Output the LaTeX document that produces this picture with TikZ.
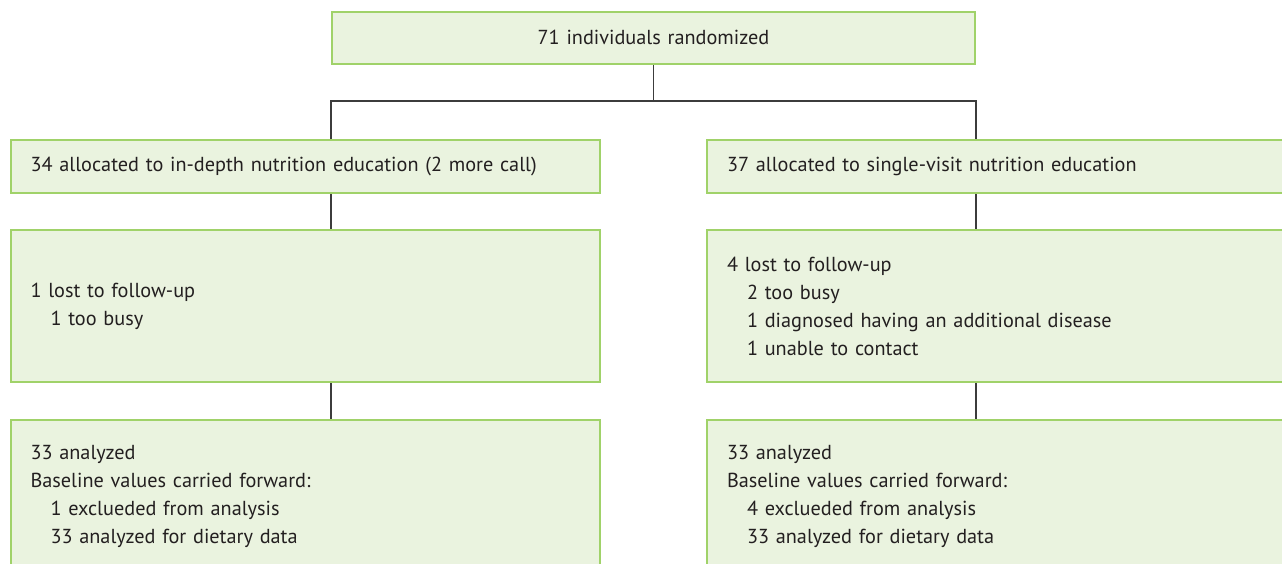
\documentclass[tikz,border=0pt]{standalone}
\usepackage{fontspec}
\setmainfont{PT Sans}
\definecolor{boxfill}{RGB}{234,243,223}
\definecolor{boxline}{RGB}{160,210,105}
\definecolor{linkcol}{RGB}{60,60,60}
\definecolor{txtcol}{RGB}{35,31,32}
\tikzset{
  flowbox/.style={draw=boxline, line width=1.5pt, fill=boxfill, rectangle,
    inner xsep=15pt, inner ysep=0pt, align=left, text=txtcol,
    font=\fontsize{15.2}{21}\selectfont, anchor=north west},
  link/.style={draw=linkcol, line width=0.9pt}
}
\begin{document}
\begin{tikzpicture}[x=0.75pt,y=-0.75pt]
\begin{scope}
\clip (0,0) rectangle (1282,564);
\node[flowbox, align=center, minimum width=643*0.75pt, minimum height=52.5*0.75pt, text width=603*0.75pt] (top) at (331,10.5) {71 individuals randomized};
\node[flowbox, minimum width=589.5*0.75pt, minimum height=53*0.75pt, text width=549.5*0.75pt] (allocL) at (9.5,139) {34 allocated to in-depth nutrition education (2 more call)};
\node[flowbox, minimum width=590*0.75pt, minimum height=53*0.75pt, text width=550*0.75pt] (allocR) at (706,139) {37 allocated to single-visit nutrition education};
\node[flowbox, minimum width=589.5*0.75pt, minimum height=152*0.75pt, text width=549.5*0.75pt] (midL) at (9.5,229) {1 lost to follow-up\\\hspace*{15pt}1 too busy};
\node[flowbox, minimum width=590*0.75pt, minimum height=152*0.75pt, text width=550*0.75pt] (midR) at (706,229) {4 lost to follow-up\\\hspace*{15pt}2 too busy\\\hspace*{15pt}1 diagnosed having an additional disease\\\hspace*{15pt}1 unable to contact};
\node[flowbox, minimum width=589.5*0.75pt, minimum height=152*0.75pt, text width=549.5*0.75pt] (botL) at (9.5,419) {33 analyzed\\Baseline values carried forward:\\\hspace*{15pt}1 exclueded from analysis\\\hspace*{15pt}33 analyzed for dietary data};
\node[flowbox, minimum width=590*0.75pt, minimum height=152*0.75pt, text width=550*0.75pt] (botR) at (706,419) {33 analyzed\\Baseline values carried forward:\\\hspace*{15pt}4 exclueded from analysis\\\hspace*{15pt}33 analyzed for dietary data};
\coordinate (j) at (652.5,101);
\draw[link] (top.south) -- (top.south |- j);
\draw[link] (top.west |- allocL.north) -- (top.west |- j) -- (top.east |- j) -- (top.east |- allocR.north);
\draw[link] (allocL.south -| top.west) -- (midL.north -| top.west);
\draw[link] (allocR.south -| top.east) -- (midR.north -| top.east);
\draw[link] (midL.south -| top.west) -- (botL.north -| top.west);
\draw[link] (midR.south -| top.east) -- (botR.north -| top.east);
\end{scope}
\pgfresetboundingbox
\useasboundingbox (0,0) rectangle (1282,564);
\end{tikzpicture}
\end{document}
